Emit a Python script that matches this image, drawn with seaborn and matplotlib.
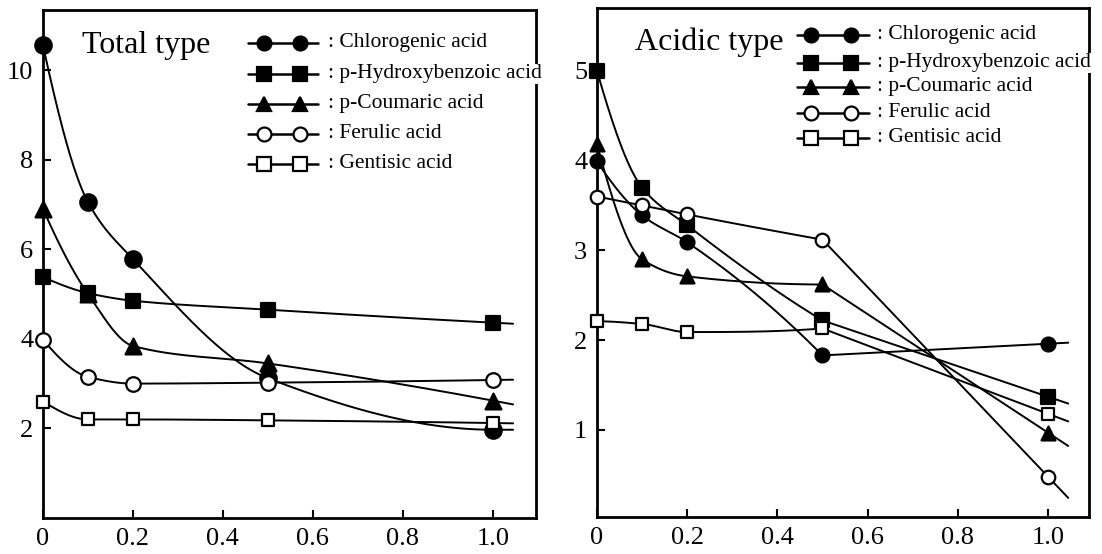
import numpy as np
import pandas as pd
import matplotlib
matplotlib.use("Agg")
import matplotlib.pyplot as plt
import seaborn as sns

# ---------------- data ----------------
x_vals = [0, 0.1, 0.2, 0.5, 1.0]
series_names = ["Chlorogenic acid", "p-Hydroxybenzoic acid", "p-Coumaric acid",
                "Ferulic acid", "Gentisic acid"]

total_chlorogenic = [10.55, 7.05, 5.78, 3.12, 1.97]
total_hydroxybenzoic = [5.38, 5.02, 4.85, 4.65, 4.36]
total_coumaric = [6.9, 5.0, 3.84, 3.45, 2.62]
total_ferulic = [3.98, 3.15, 3.0, 3.02, 3.08]
total_gentisic = [2.6, 2.2, 2.2, 2.18, 2.12]

acidic_chlorogenic = [3.99, 3.39, 3.09, 1.83, 1.96]
acidic_hydroxybenzoic = [5.0, 3.70, 3.28, 2.22, 1.37]
acidic_coumaric = [4.18, 2.90, 2.71, 2.62, 0.97]
acidic_ferulic = [3.60, 3.50, 3.40, 3.12, 0.48]
acidic_gentisic = [2.21, 2.18, 2.09, 2.13, 1.18]

x_ticks = [0, 0.2, 0.4, 0.6, 0.8, 1.0]
x_tick_labels = ["0", "0.2", "0.4", "0.6", "0.8", "1.0"]
total_y_ticks = [2, 4, 6, 8, 10]
acidic_y_ticks = [1, 2, 3, 4, 5]
panel_titles = ["Total type", "Acidic type"]

# ---------------- style ----------------
sns.set_theme(style="ticks")
plt.rcParams["font.family"] = ["Liberation Serif", "DejaVu Serif"]
plt.rcParams["axes.linewidth"] = 2.0


def pchip(x, y, xs):
    x = np.asarray(x, float)
    y = np.asarray(y, float)
    h = np.diff(x)
    d = np.diff(y) / h
    n = len(x)
    m = np.zeros(n)
    for k in range(1, n - 1):
        if d[k - 1] * d[k] > 0:
            w1 = 2 * h[k] + h[k - 1]
            w2 = h[k] + 2 * h[k - 1]
            m[k] = (w1 + w2) / (w1 / d[k - 1] + w2 / d[k])

    def end(h0, h1, d0, d1):
        mm = ((2 * h0 + h1) * d0 - h0 * d1) / (h0 + h1)
        if np.sign(mm) != np.sign(d0):
            mm = 0.0
        elif np.sign(d0) != np.sign(d1) and abs(mm) > abs(3 * d0):
            mm = 3 * d0
        return mm

    if n > 2:
        m[0] = end(h[0], h[1], d[0], d[1])
        m[-1] = end(h[-1], h[-2], d[-1], d[-2])
    else:
        m[:] = d[0]
    out = np.empty(len(xs))
    for i, xv in enumerate(xs):
        if xv >= x[-1]:
            out[i] = y[-1] + m[-1] * (xv - x[-1])
            continue
        k = min(max(np.searchsorted(x, xv, side="right") - 1, 0), n - 2)
        t = (xv - x[k]) / h[k]
        h00 = 2 * t**3 - 3 * t**2 + 1
        h10 = t**3 - 2 * t**2 + t
        h01 = -2 * t**3 + 3 * t**2
        h11 = t**3 - t**2
        out[i] = h00 * y[k] + h10 * h[k] * m[k] + h01 * y[k + 1] + h11 * h[k] * m[k + 1]
    return out


def curve(x, y, xs, corner):
    """Smooth curve; if corner is given, straight segment after that knot."""
    if corner is None:
        return pchip(x, y, xs)
    x = np.asarray(x, float)
    y = np.asarray(y, float)
    out = pchip(x[:corner + 1], y[:corner + 1], xs)
    slope = (y[corner + 1] - y[corner]) / (x[corner + 1] - x[corner])
    tail = xs >= x[corner]
    out[tail] = y[corner] + slope * (xs[tail] - x[corner])
    return out


markers = ["o", "s", "^", "o", "s"]
faces = ["black", "black", "black", "white", "white"]

fig = plt.figure(figsize=(11.02, 5.54), dpi=100)
ax_l = fig.add_axes([0.039, 0.065, 0.4474, 0.917])
ax_r = fig.add_axes([0.5417, 0.0668, 0.4465, 0.9188])

panels = [
    (ax_l, [total_chlorogenic, total_hydroxybenzoic, total_coumaric, total_ferulic, total_gentisic],
     (0, 11.34), (0, 1.096), total_y_ticks, panel_titles[0],
     [140, 110, 130, 110, 85], 0.079, 0.931,
     [0.935, 0.874, 0.815, 0.756, 0.697], (0.416, 0.558), (0.448, 0.521), 0.578, None),
    (ax_r, [acidic_chlorogenic, acidic_hydroxybenzoic, acidic_coumaric, acidic_ferulic, acidic_gentisic],
     (0.03, 5.70), (0, 1.091), acidic_y_ticks, panel_titles[1],
     [100, 90, 100, 95, 80], 0.077, 0.933,
     [0.947, 0.892, 0.845, 0.794, 0.745], (0.407, 0.553), (0.435, 0.516), 0.570, 3),
]

for (ax, ys_list, ylim, xlim, yticks, title, sizes, tx, ty,
     leg_rows, leg_line, leg_marks, leg_text_x, corner) in panels:
    xs_fine = np.linspace(0, 1.045, 400)
    frames = []
    for name, ys in zip(series_names, ys_list):
        frames.append(pd.DataFrame({"x": xs_fine,
                                    "y": curve(x_vals, ys, xs_fine, corner),
                                    "series": name}))
    curves = pd.concat(frames, ignore_index=True)
    sns.lineplot(data=curves, x="x", y="y", hue="series",
                 palette=["black"] * len(series_names), estimator=None,
                 sort=False, legend=False, linewidth=1.4, ax=ax)
    for name, ys, mk, fc, s in zip(series_names, ys_list, markers, faces, sizes):
        sns.scatterplot(x=x_vals, y=ys, marker=mk, s=s, color=fc,
                        edgecolor="black", linewidth=1.6, zorder=4,
                        clip_on=False, ax=ax)

    ax.set_xlim(*xlim)
    ax.set_ylim(*ylim)
    ax.set_xticks(x_ticks)
    ax.set_xticklabels(x_tick_labels)
    ax.set_yticks(yticks)
    ax.set_yticklabels([str(v) for v in yticks])
    ax.tick_params(direction="in", length=6, width=1.5, labelsize=19,
                   colors="black", pad=7, top=False, right=False)
    ax.set_xlabel("")
    ax.set_ylabel("")
    for sp in ax.spines.values():
        sp.set_visible(True)
        sp.set_color("black")
        sp.set_linewidth(2.0)

    ax.text(tx, ty, title, transform=ax.transAxes, fontsize=23,
            ha="left", va="center", color="black")

    for row_y, name, mk, fc in zip(leg_rows, series_names, markers, faces):
        ax.plot(list(leg_line), [row_y, row_y], color="black", lw=1.8,
                transform=ax.transAxes, clip_on=False, zorder=5)
        ax.plot(list(leg_marks), [row_y, row_y], linestyle="none", marker=mk,
                markersize=10, markerfacecolor=fc, markeredgecolor="black",
                markeredgewidth=1.6, transform=ax.transAxes, clip_on=False, zorder=6)
        ax.text(leg_text_x, row_y, ": " + name, transform=ax.transAxes,
                fontsize=15.5, ha="left", va="center", color="black", zorder=7,
                bbox=dict(facecolor="white", edgecolor="none", pad=0.5))

fig.savefig("out.png", dpi=100, facecolor="white")
